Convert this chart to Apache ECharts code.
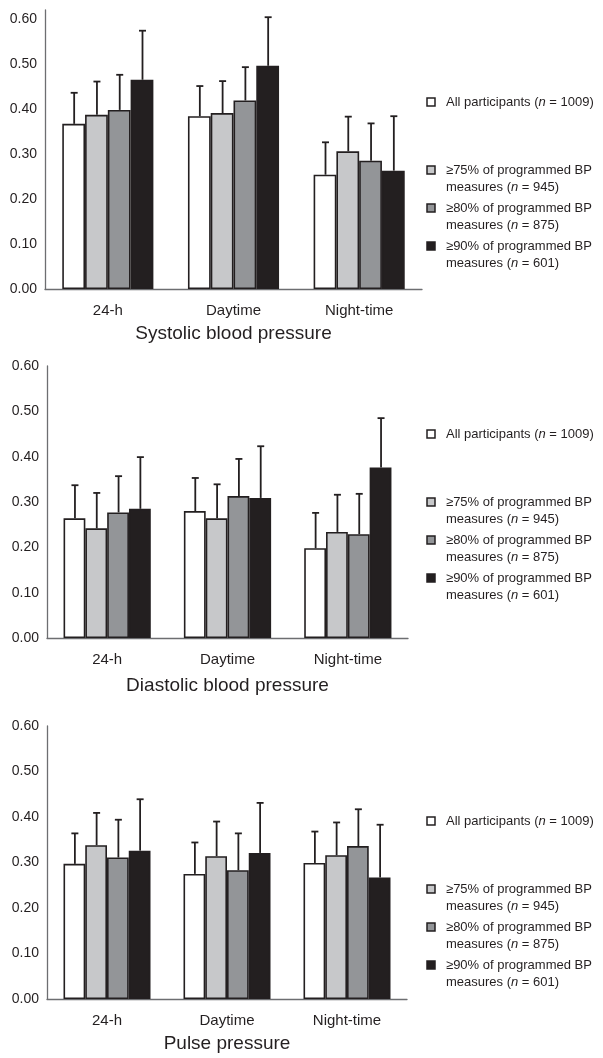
<!DOCTYPE html>
<html>
<head>
<meta charset="utf-8">
<script src="https://cdn.jsdelivr.net/npm/echarts@6/dist/echarts.min.js"></script>
<style>
body { margin: 0; background: #fff; }
.panel { position: absolute; left: 0; width: 603px; }
</style>
</head>
<body>
<div id="sbpChart" class="panel" style="top: 0; height: 350px;"></div>
<div id="dbpChart" class="panel" style="top: 350px; height: 350px;"></div>
<div id="ppChart" class="panel" style="top: 700px; height: 358px;"></div>
<script>
const periods = ['24-h', 'Daytime', 'Night-time'];
const groupNames = [
  'All participants',
  '≥75% of programmed BP measures',
  '≥80% of programmed BP measures',
  '≥90% of programmed BP measures'
];
const legendLabels = [
  'All participants ({i|n} = 1009)',
  '≥75% of programmed BP\nmeasures ({i|n} = 945)',
  '≥80% of programmed BP\nmeasures ({i|n} = 875)',
  '≥90% of programmed BP\nmeasures ({i|n} = 601)'
];
const barColors = ['#ffffff', '#c7c8ca', '#939598', '#231f20'];

// rows = groups, columns = periods (24-h, daytime, night-time)
const sbpValues = [
  [0.367, 0.384, 0.254],
  [0.387, 0.391, 0.306],
  [0.398, 0.419, 0.285],
  [0.465, 0.496, 0.263]
];
const sbpUpper = [
  [0.436, 0.451, 0.326],
  [0.461, 0.462, 0.383],
  [0.476, 0.493, 0.368],
  [0.574, 0.604, 0.384]
];

const dbpValues = [
  [0.264, 0.280, 0.198],
  [0.242, 0.264, 0.234],
  [0.277, 0.313, 0.229],
  [0.285, 0.309, 0.376]
];
const dbpUpper = [
  [0.337, 0.353, 0.276],
  [0.320, 0.339, 0.316],
  [0.357, 0.395, 0.318],
  [0.399, 0.423, 0.485]
];

const ppValues = [
  [0.297, 0.275, 0.299],
  [0.338, 0.314, 0.316],
  [0.311, 0.283, 0.336],
  [0.326, 0.321, 0.267]
];
const ppUpper = [
  [0.364, 0.344, 0.368],
  [0.409, 0.390, 0.388],
  [0.394, 0.364, 0.417],
  [0.439, 0.431, 0.383]
];

const ink = '#231f20';
const font = "'Liberation Sans', Arial, sans-serif";
const gapRatio = 0.275;

const buildChart = (domId, title, values, upper, layout) => {
  const chartDom = document.getElementById(domId);
  const myChart = echarts.init(chartDom);

  const barSeries = groupNames.map((name, g) => ({
    name: name,
    type: 'bar',
    barGap: 0,
    barCategoryGap: (gapRatio * 100) + '%',
    data: values[g],
    itemStyle: { color: barColors[g], borderColor: ink, borderWidth: 1.6 }
  }));

  const errData = [];
  values.forEach((row, g) => {
    row.forEach((v, c) => errData.push([c, g, v, upper[g][c]]));
  });

  const errSeries = {
    type: 'custom',
    z: 5,
    data: errData,
    encode: { x: 0, y: [2, 3] },
    renderItem: (params, api) => {
      const cat = api.value(0);
      const g = api.value(1);
      const base = api.coord([cat, api.value(2)]);
      const top = api.coord([cat, api.value(3)]);
      const band = api.size([1, 0])[0];
      const bw = band * (1 - gapRatio) / 4;
      const x = base[0] + (g - 1.5) * bw + 0.5;
      return {
        type: 'group',
        children: [
          { type: 'line', shape: { x1: x, y1: base[1], x2: x, y2: top[1] }, style: { stroke: ink, lineWidth: 1.8 } },
          { type: 'line', shape: { x1: x - 3.5, y1: top[1], x2: x + 3.5, y2: top[1] }, style: { stroke: ink, lineWidth: 1.8 } }
        ]
      };
    }
  };

  // legend drawn by hand so the square sits on the first text line
  const offsets = [0, 68, 106, 144];
  const legendItems = [];
  legendLabels.forEach((label, g) => {
    const cy = layout.legendTop + offsets[g];
    legendItems.push({
      type: 'rect',
      shape: { x: 427, y: cy - 4, width: 8, height: 8 },
      style: { fill: barColors[g], stroke: ink, lineWidth: 1.5 }
    });
    legendItems.push({
      type: 'text',
      x: 446,
      y: cy - 8.5,
      style: {
        text: label,
        fill: ink,
        fontFamily: font,
        fontSize: 13,
        lineHeight: 17,
        verticalAlign: 'top',
        rich: {
          i: { fontStyle: 'italic', fontFamily: font, fontSize: 13, lineHeight: 17, fill: ink }
        }
      }
    });
  });

  const option = {
    animation: false,
    backgroundColor: '#fff',
    grid: layout.grid,
    xAxis: {
      type: 'category',
      data: periods,
      axisTick: { show: false },
      axisLine: { lineStyle: { color: '#6d6e71', width: 1.3 } },
      axisLabel: { color: ink, fontSize: 15, fontFamily: font, margin: 14 },
      name: title,
      nameLocation: 'middle',
      nameGap: layout.nameGap,
      nameTextStyle: { color: ink, fontSize: 19, fontFamily: font }
    },
    yAxis: {
      type: 'value',
      min: 0,
      max: layout.yMax,
      interval: 0.1,
      splitLine: { show: false },
      axisTick: { show: false },
      axisLine: { show: true, lineStyle: { color: '#6d6e71', width: 1.3 } },
      axisLabel: {
        color: ink,
        fontSize: 14,
        fontFamily: font,
        margin: 8,
        showMaxLabel: layout.yMax <= 0.6,
        formatter: v => v.toFixed(2)
      }
    },
    graphic: legendItems,
    series: barSeries.concat([errSeries])
  };
  myChart.setOption(option);
};

buildChart('sbpChart', 'Systolic blood pressure', sbpValues, sbpUpper, {
  grid: { left: 45, right: 181, top: 10, bottom: 61 },
  yMax: 0.62,
  nameGap: 35,
  legendTop: 102
});
buildChart('dbpChart', 'Diastolic blood pressure', dbpValues, dbpUpper, {
  grid: { left: 47, right: 195, top: 16, bottom: 60 },
  yMax: 0.6,
  nameGap: 38,
  legendTop: 84
});
buildChart('ppChart', 'Pulse pressure', ppValues, ppUpper, {
  grid: { left: 47, right: 196, top: 26, bottom: 55 },
  yMax: 0.6,
  nameGap: 35,
  legendTop: 121
});
</script>
</body>
</html>
